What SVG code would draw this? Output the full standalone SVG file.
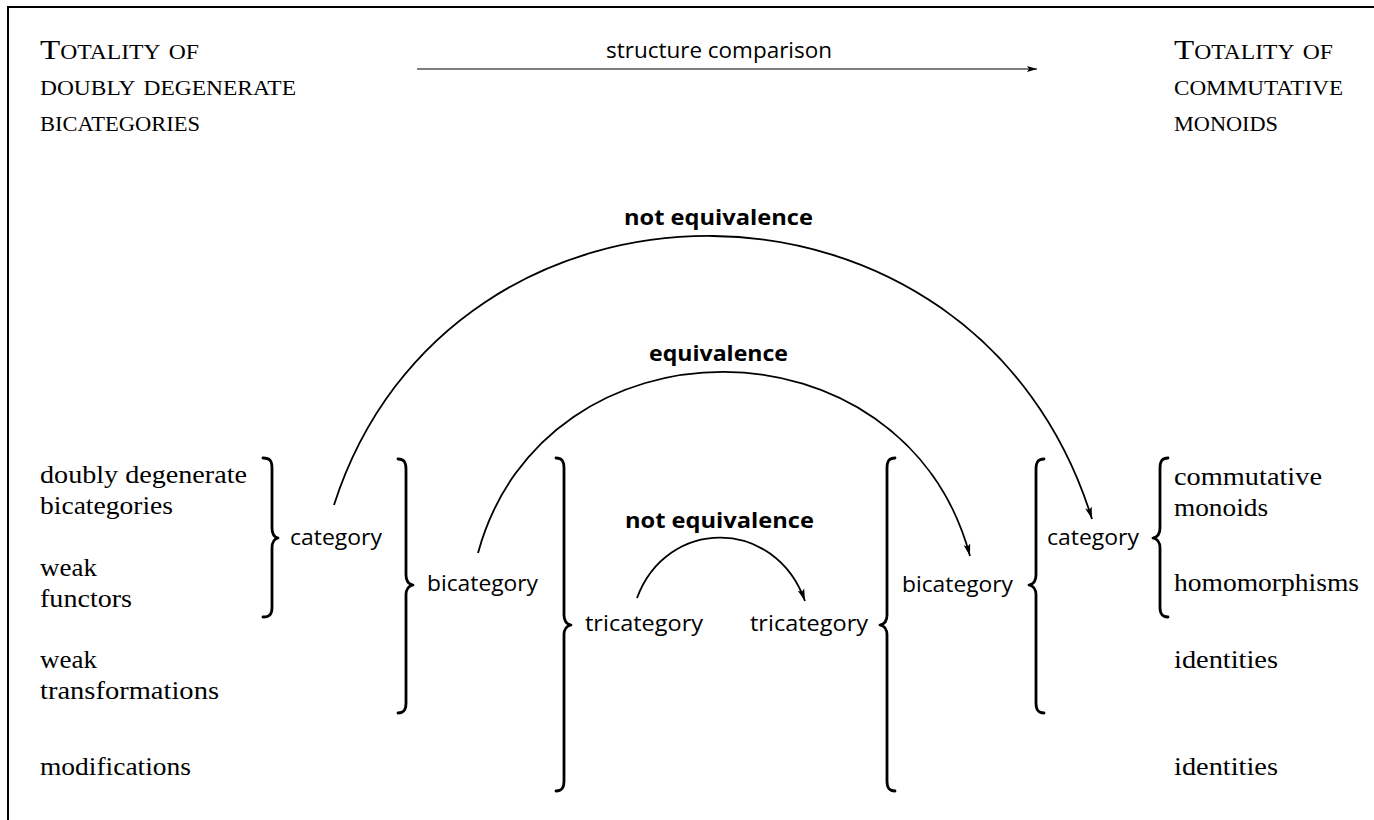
<svg xmlns="http://www.w3.org/2000/svg" width="1374" height="820" viewBox="0 0 1374 820">
<style>
.serif{font-family:"Liberation Serif","Times New Roman",serif;font-size:25px;fill:#000}
.sc{font-variant:small-caps;font-size:28px}
.sans{font-family:"Open Sans","Liberation Sans",sans-serif;font-size:22px;fill:#000}
.bold{font-weight:bold}
.brace{fill:none;stroke:#000;stroke-width:2.8;stroke-linecap:round;stroke-linejoin:round}
.arc{fill:none;stroke:#000;stroke-width:1.8}
.frame{fill:none;stroke:#000;stroke-width:2}
</style>
<defs>
<marker id="ah" markerUnits="userSpaceOnUse" markerWidth="14" markerHeight="8" refX="12" refY="4" orient="auto">
<path d="M0,0.6 L12,4 L0,7.4 L2.5,4 Z" fill="#000"/>
</marker>
<marker id="ahs" markerUnits="userSpaceOnUse" markerWidth="12" markerHeight="8" refX="10" refY="4" orient="auto">
<path d="M0,1 L10,4 L0,7 L2,4 Z" fill="#000"/>
</marker>
</defs>
<rect class="frame" x="8" y="7" width="1400" height="900"/>

<g id="header-left">
<text class="serif sc" x="40" y="59" textLength="159" lengthAdjust="spacingAndGlyphs">Totality of</text>
<text class="serif sc" x="40" y="95" textLength="256" lengthAdjust="spacingAndGlyphs">doubly degenerate</text>
<text class="serif sc" x="40" y="131" textLength="160" lengthAdjust="spacingAndGlyphs">bicategories</text>
</g>
<g id="header-right">
<text class="serif sc" x="1174" y="59" textLength="159" lengthAdjust="spacingAndGlyphs">Totality of</text>
<text class="serif sc" x="1174" y="95" textLength="169" lengthAdjust="spacingAndGlyphs">commutative</text>
<text class="serif sc" x="1174" y="131" textLength="104" lengthAdjust="spacingAndGlyphs">monoids</text>
</g>
<g id="structure-comparison-label">
<text class="sans" x="606" y="58" textLength="226" lengthAdjust="spacingAndGlyphs">structure comparison</text>
</g>

<g id="left-objects">
<text class="serif" x="40" y="483" textLength="207" lengthAdjust="spacingAndGlyphs">doubly degenerate</text>
<text class="serif" x="40" y="514" textLength="133" lengthAdjust="spacingAndGlyphs">bicategories</text>
</g>
<g id="left-functors">
<text class="serif" x="40" y="576" textLength="57" lengthAdjust="spacingAndGlyphs">weak</text>
<text class="serif" x="40" y="607" textLength="92" lengthAdjust="spacingAndGlyphs">functors</text>
</g>
<g id="left-transformations">
<text class="serif" x="40" y="668" textLength="57" lengthAdjust="spacingAndGlyphs">weak</text>
<text class="serif" x="40" y="699" textLength="179" lengthAdjust="spacingAndGlyphs">transformations</text>
</g>
<g id="left-modifications">
<text class="serif" x="40" y="775" textLength="151" lengthAdjust="spacingAndGlyphs">modifications</text>
</g>

<g id="right-objects">
<text class="serif" x="1174" y="485" textLength="148" lengthAdjust="spacingAndGlyphs">commutative</text>
<text class="serif" x="1174" y="516" textLength="94" lengthAdjust="spacingAndGlyphs">monoids</text>
</g>
<g id="right-homomorphisms">
<text class="serif" x="1174" y="591" textLength="185" lengthAdjust="spacingAndGlyphs">homomorphisms</text>
</g>
<g id="right-identities-1">
<text class="serif" x="1174" y="668" textLength="104" lengthAdjust="spacingAndGlyphs">identities</text>
</g>
<g id="right-identities-2">
<text class="serif" x="1174" y="775" textLength="104" lengthAdjust="spacingAndGlyphs">identities</text>
</g>

<g id="brace-left-category">
<path class="brace" d="M263,458 C270,458 272,461 272,468 L272,528 C272,534 274,537 278,538 C274,539 272,542 272,548 L272,607 C272,614 270,617 263,617"/>
</g>
<g id="brace-left-bicategory">
<path class="brace" d="M398,459 C404,459 406,462 406,469 L406,575 C406,581 408,584 413,585 C408,586 406,589 406,595 L406,703 C406,710 404,713 398,713"/>
</g>
<g id="brace-left-tricategory">
<path class="brace" d="M556,458 C562,458 564,461 564,468 L564,615 C564,621 566,624 571,625 C566,626 564,629 564,635 L564,781 C564,788 562,791 556,791"/>
</g>
<g id="brace-right-tricategory">
<path class="brace" d="M895,458 C889,458 887,461 887,468 L887,615 C887,621 885,624 880,625 C885,626 887,629 887,635 L887,781 C887,788 889,791 895,791"/>
</g>
<g id="brace-right-bicategory">
<path class="brace" d="M1044,459 C1038,459 1036,462 1036,469 L1036,575 C1036,581 1034,584 1029,585 C1034,586 1036,589 1036,595 L1036,703 C1036,710 1038,713 1044,713"/>
</g>
<g id="brace-right-category">
<path class="brace" d="M1168,458 C1162,458 1160,461 1160,468 L1160,528 C1160,534 1158,537 1153,538 C1158,539 1160,542 1160,548 L1160,607 C1160,614 1162,617 1168,617"/>
</g>

<g id="node-category-left"><text class="sans" x="290" y="545" textLength="92" lengthAdjust="spacingAndGlyphs">category</text></g>
<g id="node-bicategory-left"><text class="sans" x="427" y="591" textLength="111" lengthAdjust="spacingAndGlyphs">bicategory</text></g>
<g id="node-tricategory-left"><text class="sans" x="585" y="631" textLength="118" lengthAdjust="spacingAndGlyphs">tricategory</text></g>
<g id="node-tricategory-right"><text class="sans" x="750" y="631" textLength="118" lengthAdjust="spacingAndGlyphs">tricategory</text></g>
<g id="node-bicategory-right"><text class="sans" x="902" y="592" textLength="111" lengthAdjust="spacingAndGlyphs">bicategory</text></g>
<g id="node-category-right"><text class="sans" x="1047" y="545" textLength="92" lengthAdjust="spacingAndGlyphs">category</text></g>

<g id="connectors">
<path class="arc" style="stroke-width:1.2" d="M417,69 L1037,69" marker-end="url(#ahs)"/>
<path class="arc" d="M334,505 C450,144 976,144 1092,519" marker-end="url(#ah)"/>
<path class="arc" d="M478,553 C544,311 904,311 970,556" marker-end="url(#ah)"/>
<path class="arc" d="M637,598 C667,517 775,517 805,601" marker-end="url(#ah)"/>
<text class="sans bold" x="624" y="225" textLength="189" lengthAdjust="spacingAndGlyphs">not equivalence</text>
<text class="sans bold" x="649" y="361" textLength="139" lengthAdjust="spacingAndGlyphs">equivalence</text>
<text class="sans bold" x="625" y="528" textLength="189" lengthAdjust="spacingAndGlyphs">not equivalence</text>
</g>
</svg>
